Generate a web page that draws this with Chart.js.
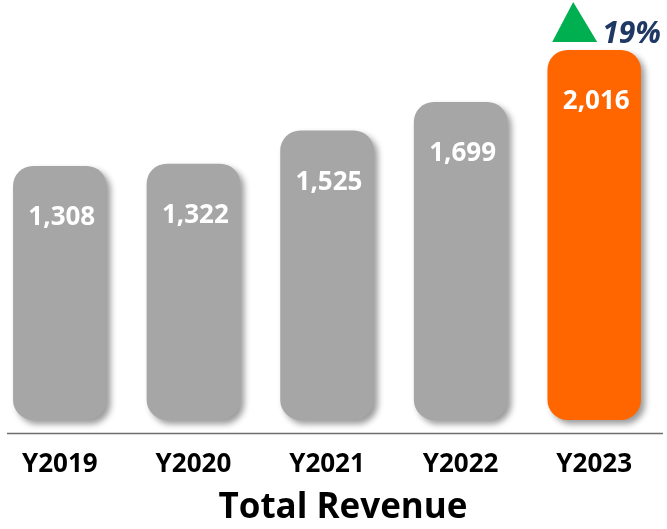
<!DOCTYPE html>
<html>
<head>
<meta charset="utf-8">
<script src="https://cdn.jsdelivr.net/npm/chart.js@4"></script>
<style>
    html, body { margin: 0; padding: 0; background: #fff; overflow: hidden; width: 667px; height: 529px; }
    #grafico-receita { position: absolute; left: -7px; top: 0; }
</style>
</head>
<body>
<canvas id="grafico-receita" width="700" height="529"></canvas>
<script>
// Dados do gráfico
const anos = ['Y2019', 'Y2020', 'Y2021', 'Y2022', 'Y2023'];
const receitas = [1308, 1322, 1525, 1699, 2016];
const cores = ['#a6a6a6', '#a6a6a6', '#a6a6a6', '#a6a6a6', '#ff6600'];

const fonte = 'Open Sans';

// crescimento do último ano
const crescimento = Math.round((receitas[4] - receitas[3]) / receitas[3] * 100) + '%';

/**
 * Plugin para sombra das barras, rótulos e destaque de crescimento
 */
const pluginBarras = {
    id: 'pluginBarras',
    beforeDatasetsDraw(chart) {
        const ctx = chart.ctx;
        ctx.save();
        ctx.shadowColor = 'rgba(0, 0, 0, 0.4)';
        ctx.shadowBlur = 6;
        ctx.shadowOffsetX = 4;
        ctx.shadowOffsetY = 4;
    },
    afterDatasetsDraw(chart) {
        const ctx = chart.ctx;
        ctx.restore();

        const meta = chart.getDatasetMeta(0);
        ctx.save();
        ctx.fillStyle = '#ffffff';
        ctx.font = 'bold 26px "' + fonte + '"';
        ctx.textAlign = 'center';
        ctx.textBaseline = 'middle';
        meta.data.forEach((barra, i) => {
            ctx.fillText(receitas[i].toLocaleString('en-US'), barra.x + 2, barra.y + 52);
        });
        ctx.restore();
    },
    afterDraw(chart) {
        const ctx = chart.ctx;
        const area = chart.chartArea;

        // linha do eixo
        ctx.save();
        ctx.strokeStyle = '#6e6e6e';
        ctx.lineWidth = 1.5;
        ctx.beginPath();
        ctx.moveTo(area.left + 14, area.bottom - 0.5);
        ctx.lineTo(area.right + 2, area.bottom - 0.5);
        ctx.stroke();

        // triângulo e percentual
        const ultima = chart.getDatasetMeta(0).data[receitas.length - 1];
        ctx.fillStyle = '#00b050';
        ctx.beginPath();
        ctx.moveTo(ultima.x - 21, ultima.y - 48);
        ctx.lineTo(ultima.x + 3, ultima.y - 8);
        ctx.lineTo(ultima.x - 42, ultima.y - 8);
        ctx.closePath();
        ctx.fill();

        ctx.fillStyle = '#1f3864';
        ctx.font = 'italic bold 30px "' + fonte + '"';
        ctx.textAlign = 'left';
        ctx.textBaseline = 'alphabetic';
        ctx.fillText(crescimento, ultima.x + 8, ultima.y - 7);
        ctx.restore();
    }
};

new Chart(document.getElementById('grafico-receita'), {
    type: 'bar',
    data: {
        labels: anos,
        datasets: [{
            label: 'Total Revenue',
            data: receitas,
            backgroundColor: cores,
            borderWidth: 0,
            borderRadius: 20,
            borderSkipped: false,
            base: -242,
            barPercentage: 0.7,
            categoryPercentage: 1.0
        }]
    },
    options: {
        responsive: false,
        animation: false,
        layout: {
            padding: 0
        },
        scales: {
            x: {
                offset: true,
                grid: { display: false, drawTicks: false },
                border: { display: false },
                ticks: {
                    color: '#000000',
                    padding: 15,
                    font: { family: fonte, weight: 'bold', size: 26 }
                },
                afterFit(scale) {
                    scale.height = 53;
                }
            },
            y: {
                position: 'right',
                min: -328,
                max: 2321,
                grid: { display: false, drawTicks: false },
                border: { display: false },
                ticks: { display: false },
                afterFit(scale) {
                    scale.width = 32;
                }
            }
        },
        plugins: {
            legend: { display: false },
            tooltip: { enabled: false },
            title: {
                display: true,
                position: 'bottom',
                text: 'Total Revenue',
                color: '#000000',
                padding: { top: 0, bottom: 0 },
                font: { family: fonte, weight: 'bold', size: 35 }
            }
        }
    },
    plugins: [pluginBarras]
});
</script>
</body>
</html>
